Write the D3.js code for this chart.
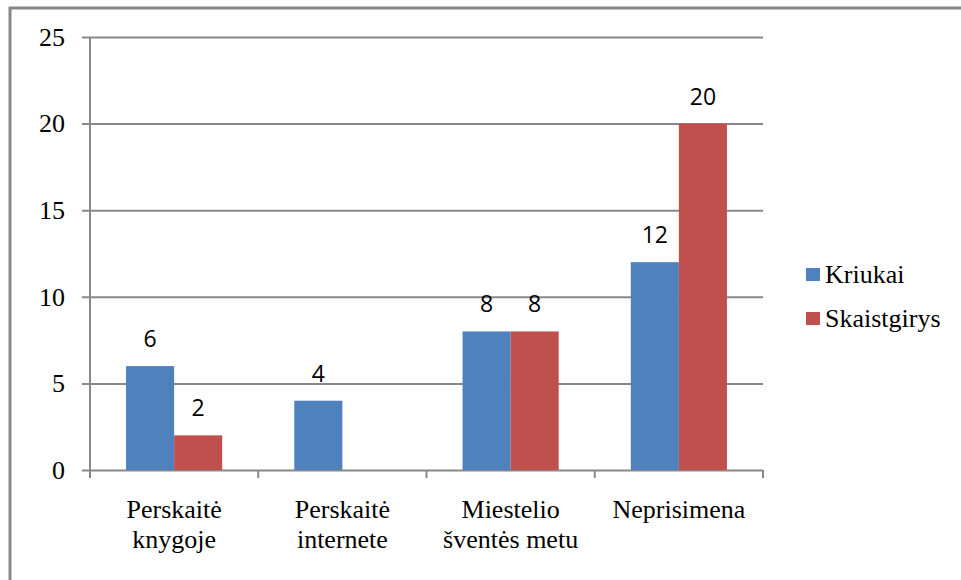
<!DOCTYPE html>
<html>
<head>
<meta charset="utf-8">
<script src="https://cdn.jsdelivr.net/npm/d3@7"></script>
<style>
  body { margin: 0; background: #fff; }
  svg { display: block; }
  .serif { font-family: 'Liberation Serif', 'Times New Roman', serif; font-size: 26px; fill: #000; }
  .sans { font-family: 'Open Sans', 'Noto Sans', sans-serif; font-size: 23px; fill: #000; }
</style>
</head>
<body>
<div id="chart"></div>
<script>
// data
var categories = ['Perskaitė\nknygoje', 'Perskaitė\ninternete', 'Miestelio\nšventės metu', 'Neprisimena']
var seriesNames = ['Kriukai', 'Skaistgirys']
var kriukai = [6, 4, 8, 12]
var skaistgirys = [2, null, 8, 20]
var yTicks = [0, 5, 10, 15, 20, 25]

var colors = ['#4f81bd', '#c0504d']
var gridColor = '#888'

var width = 961, height = 580
var plot = {left: 90, right: 763, top: 37, bottom: 470}

var svg = d3.select('#chart').append('svg')
  .attr('width', width)
  .attr('height', height)

// outer chart border (only top/left visible, rest is cut off)
svg.append('rect')
  .attr('x', 10).attr('y', 8)
  .attr('width', 1000).attr('height', 700)
  .attr('fill', 'none')
  .attr('stroke', gridColor)
  .attr('stroke-width', 3)

var x = d3.scaleBand()
  .domain(categories)
  .range([plot.left, plot.right])

var series = d3.scaleBand()
  .domain(seriesNames)
  .range([0, x.bandwidth()])
  .paddingInner(0)
  .paddingOuter(0.75)

var y = d3.scaleLinear()
  .domain([0, 25])
  .range([plot.bottom, plot.top])

// gridlines + y ticks
var yAxis = d3.axisLeft(y)
  .tickValues(yTicks)
  .tickSize(-(plot.right - plot.left))
  .tickSizeOuter(0)
  .tickPadding(25)

var yg = svg.append('g')
  .attr('transform', 'translate(' + plot.left + ',0)')
  .call(yAxis)
  .attr('font-family', null)
  .attr('font-size', null)
yg.select('.domain').remove()
yg.selectAll('.tick line')
  .attr('x1', -8)
  .attr('stroke', gridColor)
  .attr('stroke-width', 2)
yg.selectAll('.tick text')
  .attr('class', 'serif')
  .attr('fill', null)

// y axis line
svg.append('line')
  .attr('x1', plot.left).attr('x2', plot.left)
  .attr('y1', plot.top).attr('y2', plot.bottom)
  .attr('stroke', gridColor)
  .attr('stroke-width', 2)

// category ticks along x axis
var xTicks = categories.map(c => x(c)).concat([plot.right])
svg.append('g').selectAll('line')
  .data(xTicks)
  .join('line')
  .attr('x1', d => d).attr('x2', d => d)
  .attr('y1', plot.bottom).attr('y2', plot.bottom + 8)
  .attr('stroke', gridColor)
  .attr('stroke-width', 2)

// bars
var rows = []
categories.forEach((c, i) => {
  rows.push({cat: c, s: 0, v: kriukai[i]})
  rows.push({cat: c, s: 1, v: skaistgirys[i]})
})
var shown = rows.filter(d => d.v != null && d.v > 0)

svg.append('g').selectAll('rect')
  .data(shown)
  .join('rect')
  .attr('x', d => x(d.cat) + series(seriesNames[d.s]))
  .attr('width', series.bandwidth())
  .attr('y', d => y(d.v))
  .attr('height', d => y(0) - y(d.v))
  .attr('fill', d => colors[d.s])

// value labels
svg.append('g').selectAll('text')
  .data(shown)
  .join('text')
  .attr('class', 'sans')
  .attr('x', d => x(d.cat) + series(seriesNames[d.s]) + series.bandwidth() / 2)
  .attr('y', d => y(d.v) - 19)
  .attr('text-anchor', 'middle')
  .text(d => d.v)

// category labels
var catText = svg.append('g').selectAll('text')
  .data(categories)
  .join('text')
  .attr('class', 'serif')
  .attr('text-anchor', 'middle')
  .attr('transform', d => 'translate(' + (x(d) + x.bandwidth() / 2) + ',518)')
catText.selectAll('tspan')
  .data(d => d.split('\n'))
  .join('tspan')
  .attr('x', 0)
  .attr('y', (d, i) => i * 30)
  .text(d => d)

// legend
var legend = svg.append('g').selectAll('g')
  .data(seriesNames)
  .join('g')
  .attr('transform', (d, i) => 'translate(806,' + (268 + i * 44) + ')')
legend.append('rect')
  .attr('width', 14).attr('height', 13)
  .attr('fill', (d, i) => colors[i])
legend.append('text')
  .attr('class', 'serif')
  .attr('x', 19).attr('y', 15)
  .text(d => d)
</script>
</body>
</html>
